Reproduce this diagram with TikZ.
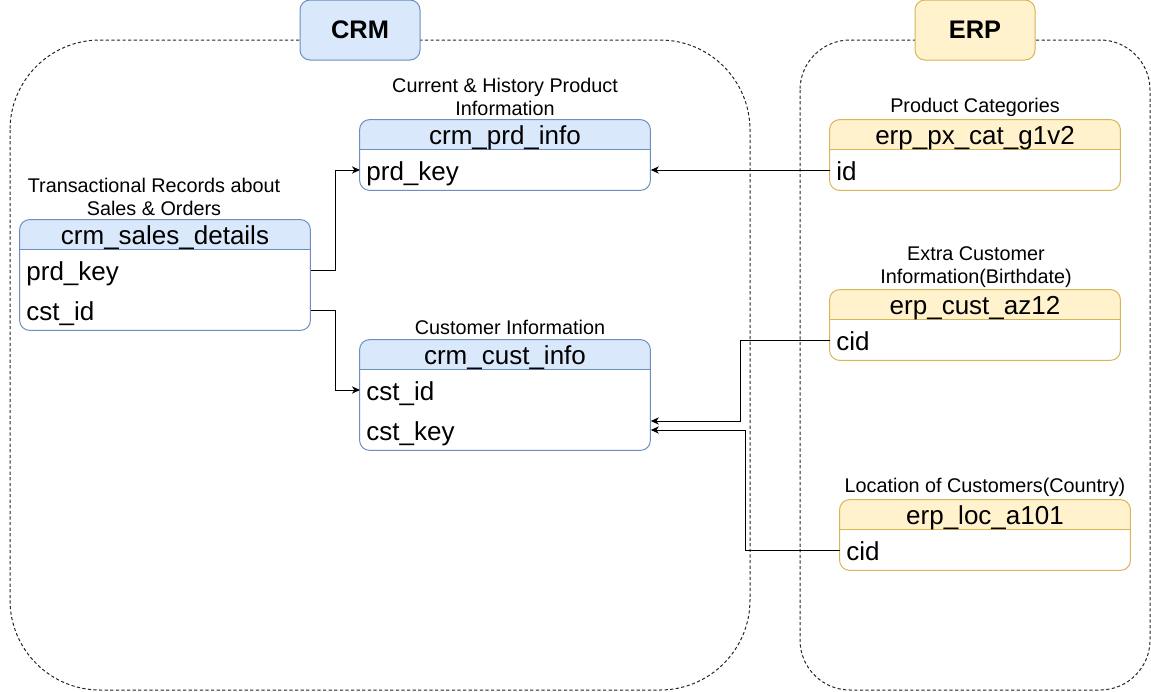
\documentclass[tikz,border=0pt]{standalone}
\usepackage{fontspec}
\setmainfont{Liberation Sans}
\usepackage{xcolor}
\usetikzlibrary{arrows.meta}
\definecolor{crmfill}{HTML}{DAE8FC}
\definecolor{crmline}{HTML}{6C8EBF}
\definecolor{erpfill}{HTML}{FFF2CC}
\definecolor{erpline}{HTML}{D6B656}
\tikzset{
    group/.style ={draw=black!85, line width=0.5pt, dash pattern=on 1.6pt off 1.2pt},
    crmtitle/.style ={rectangle, rounded corners=5pt, minimum width=60pt, minimum height=30pt, draw=crmline, fill=crmfill, line width=0.5pt, font=\bfseries\fontsize{12.7}{15}\selectfont},
    erptitle/.style ={crmtitle, draw=erpline, fill=erpfill},
    tabbody/.style ={rectangle, minimum width=145pt, inner sep=0pt, fill=white, rounded corners=5pt},
    headtxt/.style ={inner sep=0pt, text height=10pt, text depth=0pt, font=\fontsize{13}{15}\selectfont},
    fld/.style ={anchor=west, text width=139pt, text height=10pt, text depth=0pt, inner xsep=3pt, inner ysep=0pt, align=left, font=\fontsize{13}{15}\selectfont},
    lbl/.style ={align=center, inner sep=0pt, font=\fontsize{9.9}{11.6}\selectfont},
    link/.style ={line width=0.5pt, -{Stealth[length=4pt,width=3.6pt,inset=1.2pt]}}
}
% header band and frame of one table
\newcommand{\dbframe}[3]{%
    \begin{scope}
        \clip[rounded corners=5pt] (#1.south west) rectangle (#1.north east);
        \fill[#2] (#1.north west) rectangle ([yshift=-15pt]#1.north east);
    \end{scope}
    \draw[#3, line width=0.5pt] ([yshift=-15pt]#1.north west) -- ([yshift=-15pt]#1.north east);
    \draw[#3, line width=0.5pt, rounded corners=5pt] (#1.south west) rectangle (#1.north east);
}
\begin{document}
\begin{tikzpicture}[x=0.5pt, y=-0.5pt]
    \useasboundingbox (0,0) rectangle (1151,691);
    % source groups
    \draw[group, rounded corners=45pt] (10,40) rectangle (750,690);
    \draw[group, rounded corners=25pt] (800,40) rectangle (1150,690);
    \node[crmtitle] (crm) at (360,30) {CRM};
    \node[erptitle] (erp) at (975,30) {ERP};

    % CRM tables
    \node[tabbody, minimum height=55pt] (sales) at (165,275) {};
    \dbframe{sales}{crmfill}{crmline}
    \node[headtxt] (salesh) at ([yshift=-7.5pt]sales.north) {crm\_sales\_details};
    \node[fld] (salesprd) at (20,270) {prd\_key};
    \node[fld] (salescst) at (20,310) {cst\_id};
    \node[lbl] (saleslbl) at (154,197) {Transactional Records about\\Sales \& Orders};

    \node[tabbody, minimum height=35pt] (prd) at (505,155) {};
    \dbframe{prd}{crmfill}{crmline}
    \node[headtxt] (prdh) at ([yshift=-7.5pt]prd.north) {crm\_prd\_info};
    \node[fld] (prdkey) at (360,170) {prd\_key};
    \node[lbl] (prdlbl) at (505,97) {Current \& History Product\\Information};

    \node[tabbody, minimum height=55pt] (cust) at (505,395) {};
    \dbframe{cust}{crmfill}{crmline}
    \node[headtxt] (custh) at ([yshift=-7.5pt]cust.north) {crm\_cust\_info};
    \node[fld] (custid) at (360,390) {cst\_id};
    \node[fld] (custkey) at (360,430) {cst\_key};
    \node[lbl] (custlbl) at (510,327) {Customer Information};

    % ERP tables
    \node[tabbody, minimum height=35pt] (px) at (975,155) {};
    \dbframe{px}{erpfill}{erpline}
    \node[headtxt] (pxh) at ([yshift=-7.5pt]px.north) {erp\_px\_cat\_g1v2};
    \node[fld] (pxid) at (830,170) {id};
    \node[lbl] (pxlbl) at (975,107) {Product Categories};

    \node[tabbody, minimum height=35pt] (az) at (975,325) {};
    \dbframe{az}{erpfill}{erpline}
    \node[headtxt] (azh) at ([yshift=-7.5pt]az.north) {erp\_cust\_az12};
    \node[fld] (azcid) at (830,340) {cid};
    \node[lbl] (azlbl) at (976,267) {Extra Customer\\Information(Birthdate)};

    \node[tabbody, minimum height=35pt] (loc) at (985,535) {};
    \dbframe{loc}{erpfill}{erpline}
    \node[headtxt] (loch) at ([yshift=-7.5pt]loc.north) {erp\_loc\_a101};
    \node[fld] (loccid) at (840,550) {cid};
    \node[lbl] (loclbl) at (985,487) {Location of Customers(Country)};

    % relations
    \draw[link] (salesprd.east) -- ++(25,0) |- (prdkey.west);
    \draw[link] (salescst.east) -- ++(25,0) |- (custid.west);
    \draw[link] (pxid.west) -- (prdkey.east);
    \draw[link] (azcid.west) -- ++(-90,0) |- ([yshift=4.5pt]custkey.east);
    \draw[link] (loccid.west) -- ++(-95,0) |- (custkey.east);
\end{tikzpicture}
\end{document}
